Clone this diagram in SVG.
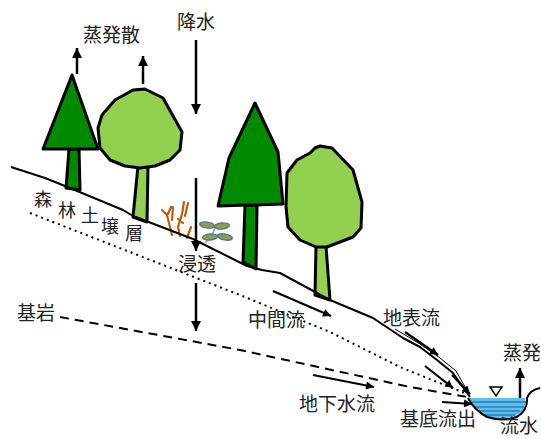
<svg xmlns="http://www.w3.org/2000/svg" width="541" height="439" viewBox="0 0 541 439">
  <style>
    .lbl { font-family: "Noto Sans CJK JP", "Noto Sans", sans-serif; font-size: 19px; fill: #222; }
    .soil { font-size: 18px; }
    .conifer { fill: #008a00; stroke: #000; stroke-width: 3; stroke-linejoin: round; }
    .broad { fill: #92d050; stroke: #000; stroke-width: 3; stroke-linejoin: round; }
    .ground { fill: none; stroke: #000; stroke-width: 2; stroke-linejoin: round; }
    .arrow { stroke: #000; stroke-width: 2.5; fill: none; }
    .flow { stroke: #000; stroke-width: 2.2; fill: none; }
    .twig { stroke: #b5600f; stroke-width: 2.2; fill: none; stroke-linecap: round; }
    .leaf { fill: #8d9e45; stroke: #4f78a8; stroke-width: 1.3; }
  </style>
  <defs>
    <marker id="head" viewBox="0 0 10 10" refX="10" refY="5" markerWidth="10" markerHeight="11" markerUnits="userSpaceOnUse" orient="auto">
      <path d="M0,0 L10,5 L0,10 Z" fill="#000"/>
    </marker>
    <marker id="headThin" viewBox="0 0 10 10" refX="10" refY="5" markerWidth="12" markerHeight="8" markerUnits="userSpaceOnUse" orient="auto">
      <path d="M0,0 L10,5 L0,10 Z" fill="#000"/>
    </marker>
  </defs>

  <rect width="541" height="439" fill="#fff"/>

  <!-- trees -->
  <g id="conifer-left">
    <path class="conifer" d="M69,149 L79,149 L80,190 L66,188 Z"/>
    <path class="conifer" d="M72,75 L98,149 L43,149 Z"/>
  </g>
  <g id="broadleaf-left">
    <path class="broad" d="M138,166 L148,166 L147,222 L133,217 Z"/>
    <path class="broad" d="M133,90 L145,89 L163,98 L182,132 L180,150 L170,160 L155,166 L140,168 L125,166 L110,160 L100,148 L98,128 L102,115 L115,100 Z"/>
  </g>
  <g id="conifer-right">
    <path class="conifer" d="M245,205 L257,205 L256,269 L243,262 Z"/>
    <path class="conifer" d="M255,103 L278,152 L283,204 L218,206 L229,158 Z"/>
  </g>
  <g id="broadleaf-right">
    <path class="broad" d="M316,246 L326,246 L330,300 L315,295 Z"/>
    <path class="broad" d="M315,148 L320,146 L332,148 L353,170 L362,202 L361,228 L353,237 L327,247 L316,247 L300,240 L288,227 L286,207 L287,173 L297,160 L310,153 Z"/>
  </g>

  <!-- undergrowth -->
  <g id="shrub">
    <path class="twig" d="M162,210 L167,215 L170,227 L172,235 M168,214 L171,207 M173,207 L172,220 M184,202 L182,214 L178,227 L180,236 M178,219 L183,223 M188,203 L185,216 M191,227 L187,238"/>
  </g>
  <g id="seedling">
    <path d="M215,227 L212,236 L205,243" stroke="#b8a060" stroke-width="1.5" fill="none"/>
    <ellipse class="leaf" cx="207" cy="225" rx="7.5" ry="3" transform="rotate(8 207 225)"/>
    <ellipse class="leaf" cx="222" cy="226" rx="7.5" ry="3" transform="rotate(-5 222 226)"/>
    <ellipse class="leaf" cx="210" cy="237" rx="7.5" ry="3" transform="rotate(-6 210 237)"/>
    <ellipse class="leaf" cx="225" cy="237" rx="7.5" ry="3" transform="rotate(10 225 237)"/>
  </g>

  <!-- stream -->
  <g id="stream">
    <path d="M468,398 L525,398 Q528,408 517,417 Q503,422 487,417 Q474,409 468,398 Z" fill="#5ec0ea"/>
    <g stroke="#2a7fbf" stroke-width="1.6">
      <line x1="470" y1="402" x2="526" y2="402"/>
      <line x1="474" y1="407" x2="524" y2="407"/>
      <line x1="479" y1="411" x2="520" y2="411"/>
      <line x1="485" y1="415" x2="515" y2="415"/>
    </g>
    <path class="ground" d="M468,398 Q474,410 487,417 Q503,422 517,417 Q528,410 527,398 Q530,390 540,388"/>
    <path d="M490,387 L502,387 L496,396 Z" fill="#fff" stroke="#000" stroke-width="1.5"/>
  </g>

  <!-- connectors: ground surface, layer boundaries, flow arrows -->
  <g id="connectors">
    <path class="ground" d="M11,167 L45,178 L65,186 L82,193 L123,210 L133,216 L193,239 L247,266 L262,270 L280,273 L317,293 L330,300 L373,318 L403,338 L420,347 L437,360 L453,373 L470,397"/>
    <path d="M395,329 L420,344 L440,358 L456,371 L468,392" fill="none" stroke="#000" stroke-width="1"/>
    <polyline points="30,213 240,295 330,332 400,367 467,394" fill="none" stroke="#000" stroke-width="2" stroke-dasharray="2 4"/>
    <polyline points="60,317 240,350 410,387 467,397" fill="none" stroke="#000" stroke-width="2" stroke-dasharray="9 6"/>

    <line class="arrow" x1="196" y1="40" x2="196" y2="114" marker-end="url(#head)"/>
    <line class="arrow" x1="196" y1="178" x2="196" y2="251" marker-end="url(#head)"/>
    <line class="arrow" x1="196" y1="283" x2="196" y2="331" marker-end="url(#head)"/>
    <line class="arrow" x1="77" y1="74" x2="77" y2="48" marker-end="url(#head)"/>
    <line class="arrow" x1="143" y1="84" x2="143" y2="56" marker-end="url(#head)"/>
    <line class="arrow" x1="520" y1="398" x2="520" y2="368" marker-end="url(#head)"/>

    <line class="flow" x1="273" y1="291" x2="331" y2="316" marker-end="url(#headThin)"/>
    <line class="flow" x1="313" y1="375" x2="374" y2="387" marker-end="url(#headThin)"/>
    <line class="flow" x1="405" y1="332" x2="438" y2="355" marker-end="url(#headThin)"/>
    <line class="flow" x1="425" y1="366" x2="453" y2="388" marker-end="url(#headThin)"/>
    <line class="flow" x1="452" y1="375" x2="470" y2="394" marker-end="url(#headThin)"/>
    <line class="flow" x1="442" y1="402" x2="472" y2="404" marker-end="url(#headThin)"/>
  </g>

  <!-- labels -->
  <g id="labels">
    <text class="lbl" x="83" y="42">蒸発散</text>
    <text class="lbl" x="177" y="29">降水</text>
    <text class="lbl" x="178" y="271">浸透</text>
    <text class="lbl" x="17" y="320">基岩</text>
    <text class="lbl" x="248" y="327">中間流</text>
    <text class="lbl" x="383" y="325">地表流</text>
    <text class="lbl" x="299" y="411">地下水流</text>
    <text class="lbl" x="400" y="426">基底流出</text>
    <text class="lbl" x="503" y="360">蒸発</text>
    <text class="lbl" x="500" y="433">流水</text>
    <text class="lbl soil" x="34" y="206">森</text>
    <text class="lbl soil" x="58" y="217">林</text>
    <text class="lbl soil" x="81" y="222">土</text>
    <text class="lbl soil" x="101" y="233">壌</text>
    <text class="lbl soil" x="125" y="240">層</text>
  </g>
</svg>
